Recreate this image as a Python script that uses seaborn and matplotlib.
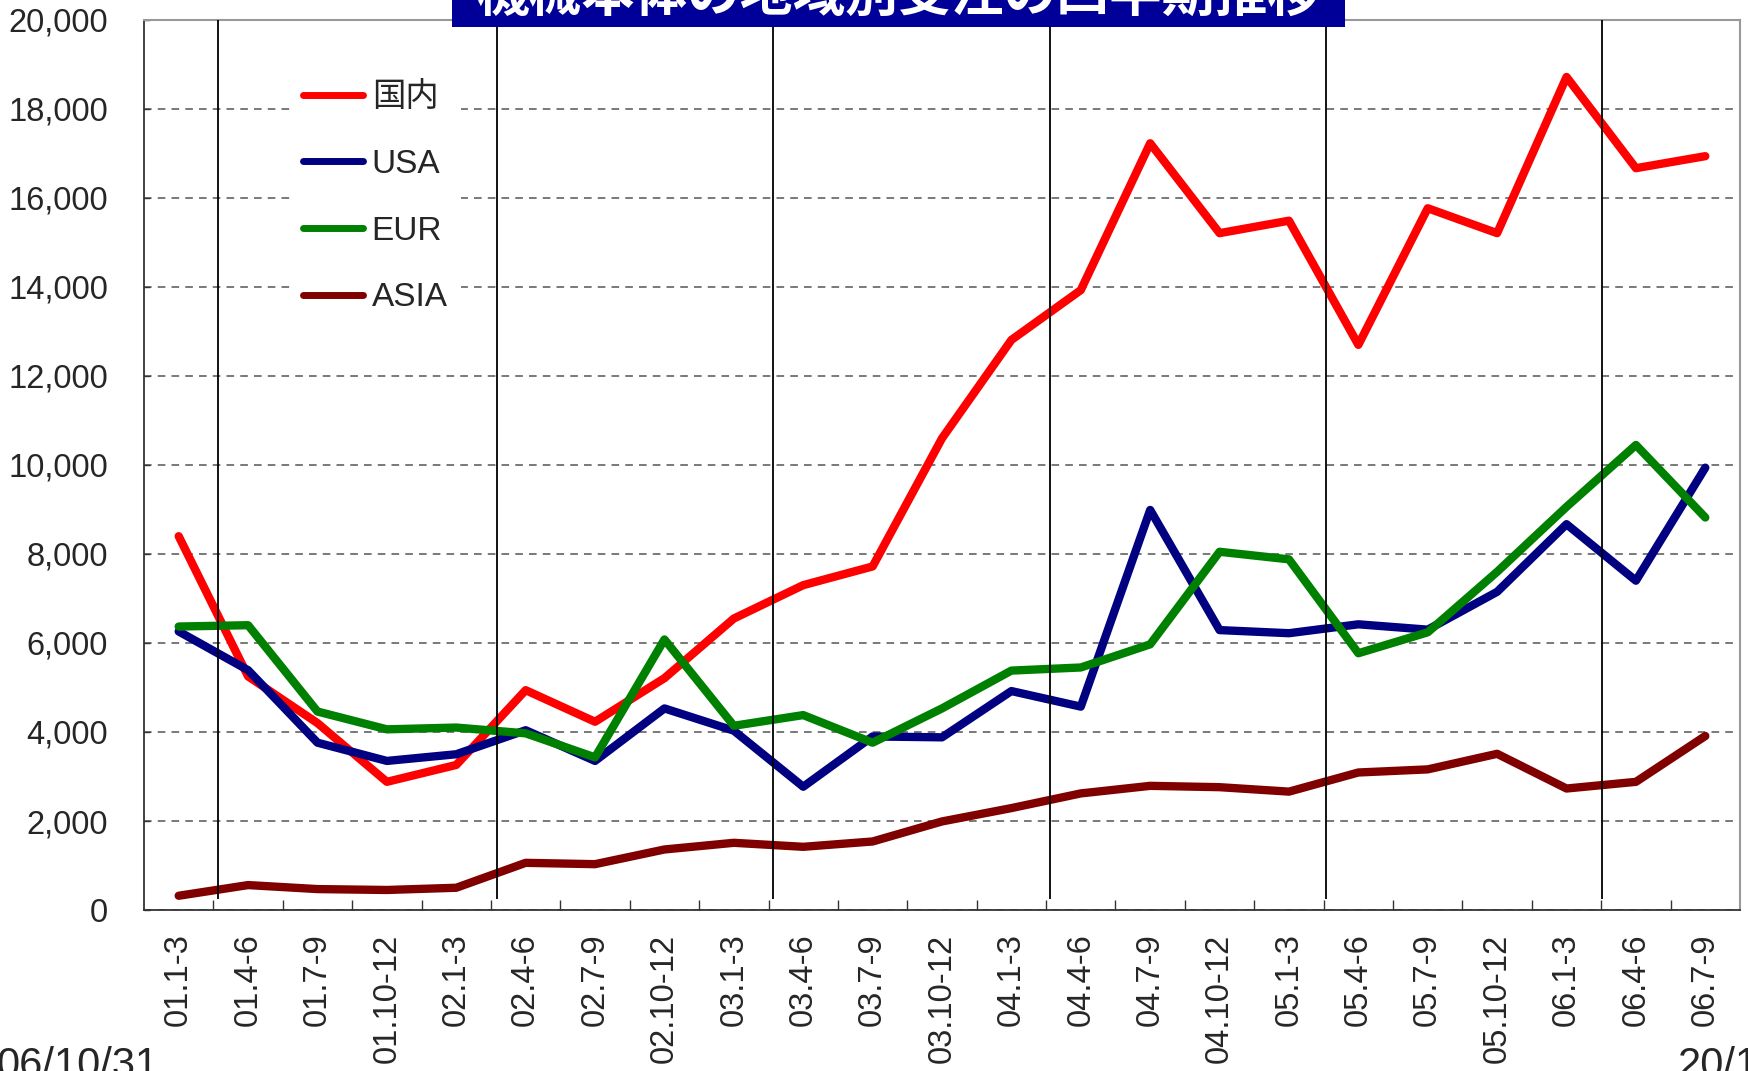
import matplotlib
matplotlib.use('Agg')
import matplotlib.pyplot as plt
import numpy as np
import pandas as pd
import seaborn as sns
from matplotlib import patches, ticker

quarters = ['01.1-3', '01.4-6', '01.7-9', '01.10-12',
            '02.1-3', '02.4-6', '02.7-9', '02.10-12',
            '03.1-3', '03.4-6', '03.7-9', '03.10-12',
            '04.1-3', '04.4-6', '04.7-9', '04.10-12',
            '05.1-3', '05.4-6', '05.7-9', '05.10-12',
            '06.1-3', '06.4-6', '06.7-9']

domestic = [8400, 5250, 4200, 2880, 3260, 4940, 4230, 5210, 6550, 7300, 7720,
            10600, 12810, 13930, 17230, 15210, 15490, 12700, 15770, 15210,
            18720, 16670, 16940]
usa = [6260, 5390, 3760, 3350, 3500, 4040, 3350, 4530, 4030, 2770, 3900,
       3880, 4920, 4570, 8990, 6290, 6220, 6420, 6300, 7150, 8670, 7400, 9940]
eur = [6370, 6400, 4460, 4060, 4100, 3970, 3430, 6080, 4140, 4380, 3760,
       4530, 5380, 5450, 5970, 8050, 7880, 5770, 6240, 7600, 9060, 10450, 8820]
asia = [320, 560, 470, 450, 500, 1060, 1030, 1360, 1510, 1420, 1540, 1990,
        2290, 2620, 2790, 2760, 2660, 3090, 3160, 3510, 2730, 2880, 3910]

series_names = ['国内', 'USA', 'EUR', 'ASIA']
series_colors = ['#ff0000', '#000080', '#008000', '#800000']

title = '機械本体の地域別受注の四半期推移'
date_left = '06/10/31'
date_right = '20/10'

# year-ish divider lines drawn over the chart (in category units)
divider_x = [0.57, 4.58, 8.57, 12.55, 16.53, 20.51]

df = pd.DataFrame({
    'quarter': quarters * 4,
    'orders': domestic + usa + eur + asia,
    'region': np.repeat(series_names, len(quarters)),
})

sns.set_style('white')
plt.rcParams['font.family'] = ['Liberation Sans', 'Noto Sans CJK JP']

W, H = 1748, 1071
fig = plt.figure(figsize=(W / 100, H / 100), dpi=100)
ax = fig.add_axes([144 / W, 1 - 910 / H, 1596 / W, 890 / H])

sns.lineplot(data=df, x='quarter', y='orders', hue='region',
             palette=dict(zip(series_names, series_colors)),
             hue_order=series_names, sort=False, linewidth=6,
             solid_capstyle='round', solid_joinstyle='round',
             ax=ax, zorder=3)

ax.set_xlim(-0.5, len(quarters) - 0.5)
ax.set_ylim(0, 20000)
ax.set_xlabel('')
ax.set_ylabel('')

ax.yaxis.set_major_locator(ticker.MultipleLocator(2000))
ax.yaxis.set_major_formatter(ticker.StrMethodFormatter('{x:,.0f}'))
ax.yaxis.grid(True, linestyle=(0, (5, 4)), color='#555555', linewidth=1.1)
ax.xaxis.grid(False)
ax.set_axisbelow(True)

ax.set_xticks(range(len(quarters)))
ax.set_xticklabels(quarters, rotation=90)
ax.set_xticks(np.arange(0.5, len(quarters) - 1), minor=True)
ax.tick_params(axis='x', which='major', length=0, pad=17, labelsize=23.5)
ax.tick_params(axis='x', which='minor', direction='in', length=7,
               width=1, color='#333333', bottom=True)
ax.tick_params(axis='y', direction='in', length=4, width=1, color='#333333',
               pad=26, labelsize=23.5, left=True)

for side in ['left', 'bottom']:
    ax.spines[side].set_color('#333333')
    ax.spines[side].set_linewidth(1.3)
for side in ['top', 'right']:
    ax.spines[side].set_color('#999999')
    ax.spines[side].set_linewidth(1.5)

ax.vlines(divider_x, 250, 20000, color='black', linewidth=1.3, zorder=4)

handles, labels = ax.get_legend_handles_labels()
leg = ax.legend(handles, labels, loc='upper left',
                bbox_to_anchor=(0.0915, 0.945), borderaxespad=0,
                borderpad=0.4, handlelength=1.8, handletextpad=0.25,
                labelspacing=1.07, fontsize=24, frameon=True,
                facecolor='white', edgecolor='none', framealpha=1,
                fancybox=False)
leg.set_zorder(5)
for line in leg.get_lines():
    line.set_linewidth(5)
    line.set_solid_capstyle('round')

# title plate, cut off at the top of the image
fig.add_artist(patches.Rectangle((452 / W, 1 - 27 / H), 893 / W, 60 / H,
                                 transform=fig.transFigure,
                                 facecolor='#000099', edgecolor='none',
                                 zorder=10))
fig.text(899 / W, 1 - 11 / H, title, ha='center', va='baseline',
         fontsize=38, fontweight='bold', color='white',
         family=['Noto Sans CJK JP'], zorder=11)

fig.text(158 / W, 1 - 1046 / H, date_left, ha='right', va='top', fontsize=30)
fig.text(1678 / W, 1 - 1046 / H, date_right, ha='left', va='top', fontsize=30)

fig.savefig('out.png', dpi=100)
